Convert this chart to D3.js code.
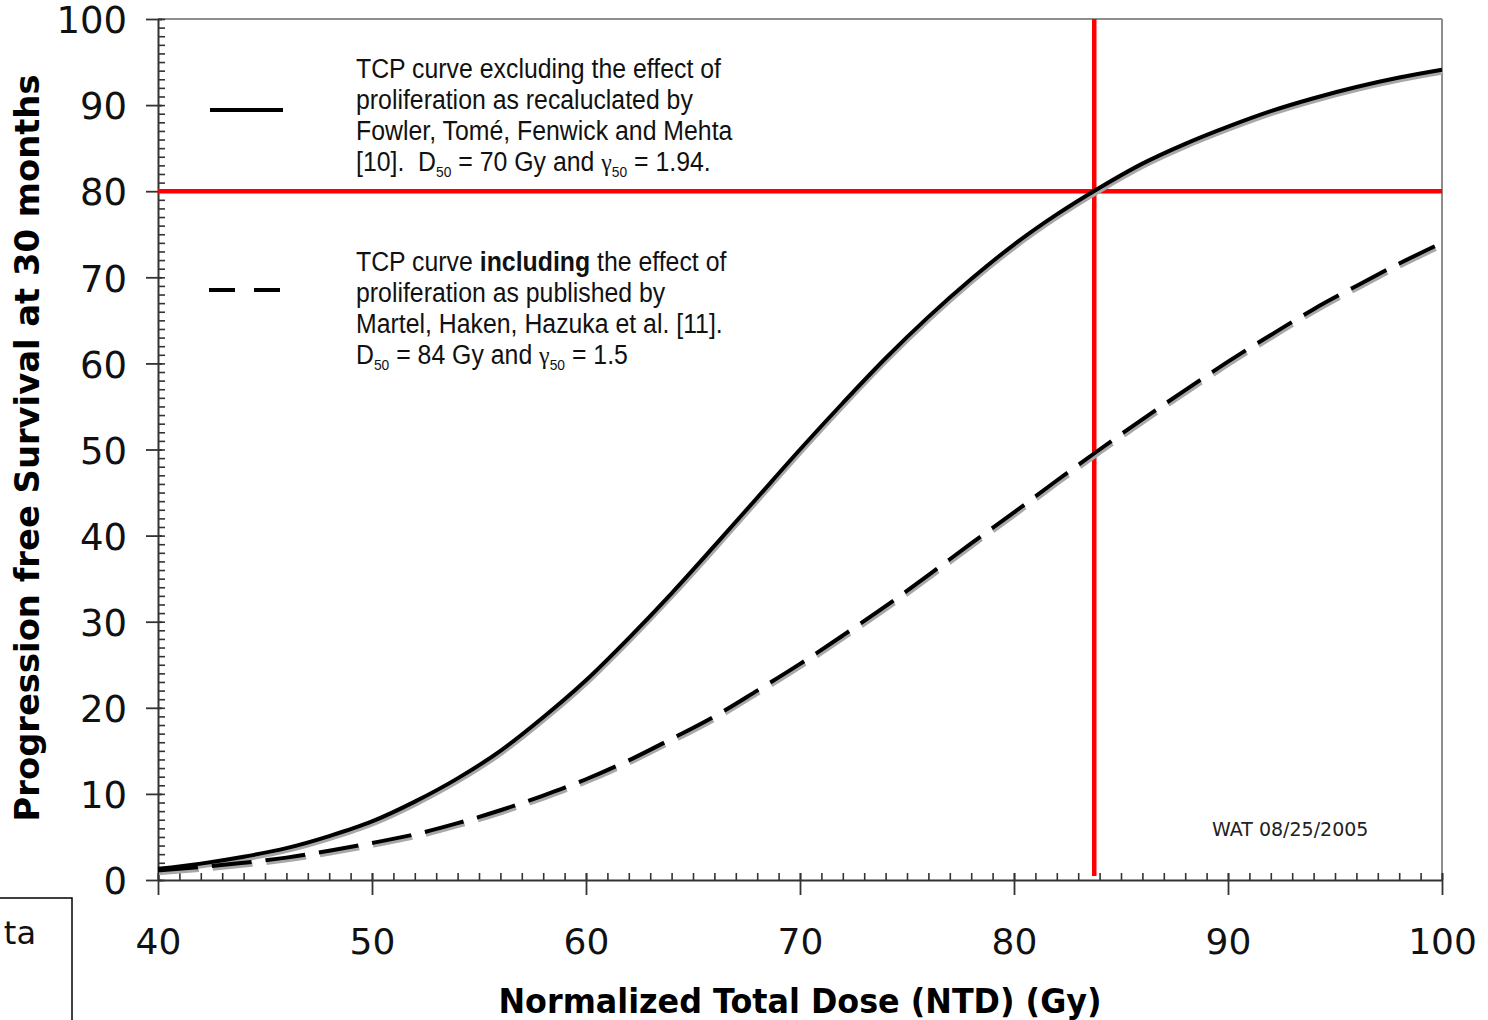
<!DOCTYPE html>
<html>
<head>
<meta charset="utf-8">
<script src="https://cdn.jsdelivr.net/npm/d3@7"></script>
<style>
  body { margin: 0; background: #fff; }
  svg { display: block; }
  .tick text { font-family: "DejaVu Sans", Verdana, sans-serif; fill: #111; }
</style>
</head>
<body>
<svg id="chart" width="1488" height="1020"></svg>
<script>
'use strict';

// dose (Gy) and tumour control probability (%)
const dose = [40, 42, 44, 46, 48, 50, 52, 54, 56, 58, 60, 62, 64, 66, 68, 70,
              72, 74, 76, 78, 80, 82, 84, 86, 88, 90, 92, 94, 96, 98, 100];
const tcpExcluding = [1.3, 1.9, 2.7, 3.7, 5.1, 6.8, 9.1, 11.8, 15.0, 18.9, 23.2, 28.1, 33.3, 38.8, 44.4, 50.0,
                      55.4, 60.6, 65.4, 69.8, 73.8, 77.3, 80.4, 83.2, 85.5, 87.5, 89.3, 90.8, 92.1, 93.2, 94.1];
const tcpIncluding = [1.1, 1.5, 2.0, 2.6, 3.4, 4.3, 5.3, 6.6, 8.1, 9.8, 11.7, 13.9, 16.4, 19.0, 22.0, 25.1,
                      28.4, 31.8, 35.4, 39.1, 42.7, 46.4, 50.0, 53.5, 56.9, 60.2, 63.3, 66.3, 69.0, 71.6, 74.0];

const xTicks = [40, 50, 60, 70, 80, 90, 100];
const yTicks = [0, 10, 20, 30, 40, 50, 60, 70, 80, 90, 100];

// reference cross-hair: 80 % control reached at ~83.75 Gy
const refTcp = 80;
const refDose = 83.75;

const legendSolid = [
  [{t: 'TCP curve excluding the effect of'}],
  [{t: 'proliferation as recaluclated by'}],
  [{t: 'Fowler, Tomé, Fenwick and Mehta'}],
  [{t: '[10].  D'}, {t: '50', sub: true}, {t: ' = 70 Gy and '}, {t: 'γ', greek: true}, {t: '50', sub: true}, {t: ' = 1.94.'}]
];
const legendDashed = [
  [{t: 'TCP curve '}, {t: 'including', bold: true}, {t: ' the effect of'}],
  [{t: 'proliferation as published by'}],
  [{t: 'Martel, Haken, Hazuka et al. [11].'}],
  [{t: 'D'}, {t: '50', sub: true}, {t: ' = 84 Gy and '}, {t: 'γ', greek: true}, {t: '50', sub: true}, {t: ' = 1.5'}]
];

const svg = d3.select('#chart');

const x = d3.scaleLinear().domain([40, 100]).range([158, 1442]);
const y = d3.scaleLinear().domain([0, 100]).range([880, 19]);

// frame: top and right in grey
svg.append('line')
    .attr('x1', x(40)).attr('x2', x(100))
    .attr('y1', y(100)).attr('y2', y(100))
    .attr('stroke', '#8e8e8e').attr('stroke-width', 2);
svg.append('line')
    .attr('x1', x(100)).attr('x2', x(100))
    .attr('y1', y(100)).attr('y2', y(0))
    .attr('stroke', '#8e8e8e').attr('stroke-width', 2);

// minor ticks, pointing into the plot
svg.append('g')
    .attr('transform', 'translate(' + x(40) + ',0)')
    .call(d3.axisRight(y).ticks(100).tickSize(7).tickFormat(''))
    .call(g => g.select('.domain').remove())
    .call(g => g.selectAll('line').attr('stroke', '#333').attr('stroke-width', 1.6));
svg.append('g')
    .attr('transform', 'translate(0,' + y(0) + ')')
    .call(d3.axisTop(x).ticks(60).tickSize(7).tickFormat(''))
    .call(g => g.select('.domain').remove())
    .call(g => g.selectAll('line').attr('stroke', '#333').attr('stroke-width', 1.6));

// major axes
svg.append('g')
    .attr('transform', 'translate(' + x(40) + ',0)')
    .call(d3.axisLeft(y).tickValues(yTicks).tickSizeInner(12).tickSizeOuter(0).tickPadding(19))
    .call(g => g.select('.domain').attr('stroke', '#333').attr('stroke-width', 2))
    .call(g => g.selectAll('.tick line').attr('x1', 4).attr('stroke', '#333').attr('stroke-width', 1.8))
    .call(g => g.selectAll('.tick text').attr('font-size', 37).attr('dy', '0.37em'));

svg.append('g')
    .attr('transform', 'translate(0,' + y(0) + ')')
    .call(d3.axisBottom(x).tickValues(xTicks).tickSizeInner(15).tickSizeOuter(0).tickPadding(33))
    .call(g => g.select('.domain').attr('stroke', '#333').attr('stroke-width', 2))
    .call(g => g.selectAll('.tick line').attr('y1', -7).attr('stroke', '#333').attr('stroke-width', 1.8))
    .call(g => g.selectAll('.tick text').attr('font-size', 36));

// axis titles
svg.append('text')
    .attr('x', x(70)).attr('y', 1013)
    .attr('text-anchor', 'middle')
    .attr('font-family', '"DejaVu Sans", Verdana, sans-serif')
    .attr('font-weight', 'bold').attr('font-size', 34)
    .attr('textLength', 603).attr('lengthAdjust', 'spacingAndGlyphs')
    .text('Normalized Total Dose (NTD) (Gy)');

svg.append('text')
    .attr('transform', 'translate(39,' + 448 + ') rotate(-90)')
    .attr('text-anchor', 'middle')
    .attr('font-family', '"DejaVu Sans", Verdana, sans-serif')
    .attr('font-weight', 'bold').attr('font-size', 33)
    .attr('textLength', 747).attr('lengthAdjust', 'spacingAndGlyphs')
    .text('Progression free Survival at 30 months');

// reference lines
svg.append('line')
    .attr('x1', x(40)).attr('x2', x(100))
    .attr('y1', y(refTcp)).attr('y2', y(refTcp))
    .attr('stroke', '#ff0000').attr('stroke-width', 4.5);
svg.append('line')
    .attr('x1', x(refDose)).attr('x2', x(refDose))
    .attr('y1', y(100)).attr('y2', y(0) - 4)
    .attr('stroke', '#ff0000').attr('stroke-width', 4.5);

// curves, each with a soft grey shadow as in the original export
const line = d3.line()
    .x(d => x(d[0]))
    .y(d => y(d[1]))
    .curve(d3.curveMonotoneX);

const series = [
  {values: tcpExcluding, dash: null},
  {values: tcpIncluding, dash: '40,14'}
];

series.forEach(function(s) {
  const pts = dose.map((d, i) => [d, s.values[i]]);
  svg.append('path')
      .attr('d', line(pts))
      .attr('transform', 'translate(1,2.5)')
      .attr('fill', 'none')
      .attr('stroke', '#a8a8a8').attr('stroke-width', 4.5)
      .attr('stroke-dasharray', s.dash);
  svg.append('path')
      .attr('d', line(pts))
      .attr('fill', 'none')
      .attr('stroke', '#000').attr('stroke-width', 4)
      .attr('stroke-dasharray', s.dash);
});

// legend
svg.append('line')
    .attr('x1', 210).attr('x2', 283).attr('y1', 110).attr('y2', 110)
    .attr('stroke', '#000').attr('stroke-width', 4);
svg.append('line')
    .attr('x1', 209).attr('x2', 280).attr('y1', 290).attr('y2', 290)
    .attr('stroke', '#000').attr('stroke-width', 4)
    .attr('stroke-dasharray', '26,19');

function drawBlock(lines, top) {
  lines.forEach(function(segs, i) {
    const t = svg.append('text')
        .attr('transform', 'translate(356,' + (top + i * 31) + ') scale(0.92,1)')
        .attr('font-family', '"Liberation Sans", Arial, sans-serif')
        .attr('font-size', 27)
        .attr('fill', '#111')
        .style('white-space', 'pre');
    let shifted = false;
    segs.forEach(function(s) {
      const sp = t.append('tspan').text(s.t);
      if (s.bold) sp.attr('font-weight', 'bold');
      if (s.greek) sp.attr('font-family', '"Liberation Serif", serif').attr('font-size', 26);
      if (s.sub) {
        sp.attr('font-size', 15).attr('dy', 6);
        shifted = true;
      } else if (shifted) {
        sp.attr('dy', -6);
        shifted = false;
      }
    });
  });
}

drawBlock(legendSolid, 78);
drawBlock(legendDashed, 271);

svg.append('text')
    .attr('x', 1212).attr('y', 836)
    .attr('font-family', '"DejaVu Sans", Verdana, sans-serif')
    .attr('font-size', 19)
    .attr('fill', '#222')
    .text('WAT 08/25/2005');

// clipped fragment of a neighbouring text box in the source page
svg.append('rect')
    .attr('x', -10).attr('y', 898).attr('width', 82).attr('height', 140)
    .attr('fill', 'none').attr('stroke', '#000').attr('stroke-width', 1.5);
svg.append('text')
    .attr('x', 36).attr('y', 944)
    .attr('text-anchor', 'end')
    .attr('font-family', '"DejaVu Sans", Verdana, sans-serif')
    .attr('font-size', 32)
    .attr('fill', '#111')
    .text('ta');
</script>
</body>
</html>
